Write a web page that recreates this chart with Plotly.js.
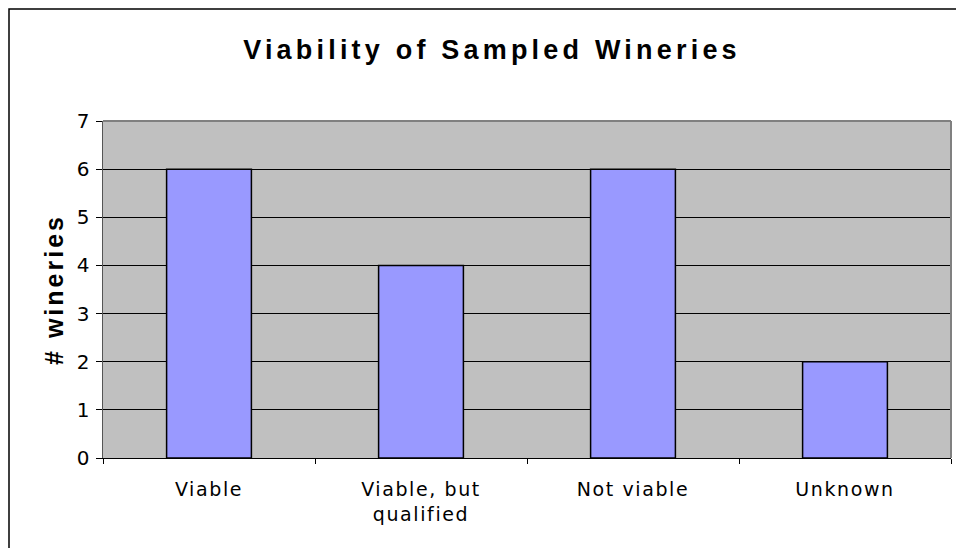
<!DOCTYPE html>
<html><head><meta charset="utf-8">
<script src="https://cdn.plot.ly/plotly-3.0.1.min.js"></script>
<style>
html,body{margin:0;padding:0;background:#fff;}
#chart{width:956px;height:548px;}
#chart .xtick text{letter-spacing:1.6px;}
#chart .gtitle{letter-spacing:4.2px;}
#chart .ytitle{letter-spacing:3px;}
</style>
</head><body><div id="chart"></div>
<script>
const categories = ["Viable", "Viable, but<br>qualified", "Not viable", "Unknown"];
const wineries = [6, 4, 6, 2];
const yTicks = [0, 1, 2, 3, 4, 5, 6, 7];

const trace = {
  type: "bar",
  x: categories,
  y: wineries,
  marker: {color: "#9999FF", line: {color: "#000000", width: 1.5}},
  hoverinfo: "x+y"
};

const layout = {
  width: 956, height: 548,
  margin: {l: 103, r: 5, t: 121, b: 90},
  paper_bgcolor: "#FFFFFF",
  plot_bgcolor: "#C0C0C0",
  bargap: 0.6,
  showlegend: false,
  title: {text: "<b>Viability of Sampled Wineries</b>", x: 492/956, xref: "container", xanchor: "center",
          y: 1 - 50/548, yref: "container", yanchor: "middle",
          font: {family: "Liberation Sans, Arial, sans-serif", size: 27, color: "#000"}},
  xaxis: {
    type: "category",
    showline: true, linecolor: "#000", linewidth: 1,
    ticks: "outside", tickson: "boundaries", ticklen: 5, tickcolor: "#000", tickwidth: 1,
    ticklabelstandoff: 14,
    tickfont: {family: "DejaVu Sans, Verdana, sans-serif", size: 19, color: "#000"},
    showgrid: false, zeroline: false
  },
  yaxis: {
    range: [0, 7], tickvals: yTicks, ticktext: yTicks.map(String),
    showline: true, linecolor: "#555", linewidth: 1.5,
    ticks: "outside", ticklen: 6, tickcolor: "#000", tickwidth: 1,
    ticklabelstandoff: 2,
    showgrid: true, gridcolor: "#000", gridwidth: 1,
    zeroline: false,
    tickfont: {family: "DejaVu Sans, Verdana, sans-serif", size: 20, color: "#000"},
    title: {text: "<b># wineries</b>", standoff: 6,
            font: {family: "Liberation Sans, Arial, sans-serif", size: 25, color: "#000"}}
  },
  shapes: [
    {type: "line", xref: "paper", yref: "paper", x0: 0, x1: 1, y0: 1, y1: 1, line: {color: "#808080", width: 2}},
    {type: "line", xref: "paper", yref: "paper", x0: 1, x1: 1, y0: 0, y1: 1, line: {color: "#808080", width: 2}},
    {type: "rect", xref: "paper", yref: "paper", x0: (9-103)/848, x1: 1.02, y0: (458-9)/337, y1: -0.3,
     line: {color: "#000", width: 1.5}, fillcolor: "rgba(0,0,0,0)", layer: "below"}
  ]
};

Plotly.newPlot("chart", [trace], layout, {displayModeBar: false, staticPlot: true});
</script></body></html>
